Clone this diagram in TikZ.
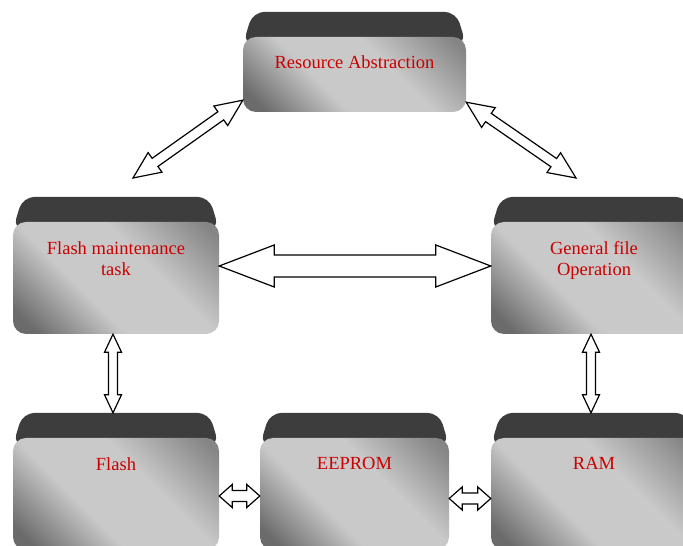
\documentclass[tikz,border=0pt]{standalone}
\usepackage{fontspec}
\setmainfont{Liberation Serif}
\usetikzlibrary{calc,backgrounds}
\definecolor{lblred}{RGB}{204,0,0}
\definecolor{tabgray}{RGB}{61,61,61}
\pgfdeclareverticalshading{boxshade}{100bp}{color(0bp)=(black!58); color(20bp)=(black!58);
  color(40bp)=(black!21); color(60bp)=(black!21); color(82bp)=(black!48); color(100bp)=(black!48)}
\tikzset{
  block/.style={rounded corners=13pt, minimum width=206pt, minimum height=112pt, inner sep=0pt,
    shading=boxshade, shading angle=-45},
  lbl/.style={anchor=north, yshift=-16pt, text=lblred, align=center,
    font=\fontsize{18.5pt}{21pt}\selectfont},
  tab/.style={fill=tabgray, rounded corners=12pt},
  harrow/.style={draw=black, fill=white, line width=1.2pt}
}
% hollow double arrow: from, to, shaft half width, head half width, head length
\newcommand{\hollowarrow}[5]{%
  \draw[harrow] let \p1=($(#2)-(#1)$), \n1={atan2(\y1,\x1)}, \n2={veclen(\x1,\y1)} in
    {[shift={(#1)}, rotate=\n1]
    (0,0) -- (#5,#4) -- (#5,#3) -- (\n2-#5,#3) -- (\n2-#5,#4) -- (\n2,0)
    -- (\n2-#5,-#4) -- (\n2-#5,-#3) -- (#5,-#3) -- (#5,-#4) -- cycle};
}
\begin{document}
\begin{tikzpicture}[x=1pt,y=1pt]
  \useasboundingbox (0,0) rectangle (683,546);
  \clip (0,0) rectangle (683,546);

  % blocks
  \node[block, minimum width=223pt, minimum height=75pt,
    label={[lbl, yshift=1pt]north:Resource Abstraction}] (res) at (354.5,471.5) {};
  \node[block, label={[lbl]north:Flash maintenance\\task}] (fmt) at (116,268) {};
  \node[block, label={[lbl]north:General file\\Operation}] (gfo) at (594,268) {};
  \node[block, label={[lbl]north:Flash}] (flash) at (116,52) {};
  \node[block, minimum width=189pt, label={[lbl]north:EEPROM}] (eeprom) at (354.5,52) {};
  \node[block, label={[lbl]north:RAM}] (ram) at (594,52) {};

  % dark top of each block
  \begin{scope}[on background layer]
    \foreach \n in {res,fmt,gfo,flash,eeprom,ram}
      \fill[tab] ([yshift=-8pt]\n.north west) -- ([xshift=10pt,yshift=25pt]\n.north west)
        -- ([xshift=-10pt,yshift=25pt]\n.north east) -- ([yshift=-8pt]\n.north east) -- cycle;
  \end{scope}

  % arrow ends
  \coordinate (res-w) at ([yshift=12pt]res.south west);
  \coordinate (res-e) at ([yshift=10pt]res.south east);
  \coordinate (fmt-up) at (133,368);
  \coordinate (gfo-up) at (576,368);
  \coordinate (fmt-e) at ([yshift=12pt]fmt.east);
  \coordinate (gfo-w) at ([yshift=12pt]gfo.west);
  \coordinate (fmt-s) at ([xshift=-3pt]fmt.south);
  \coordinate (flash-n) at ([xshift=-3pt,yshift=25pt]flash.north);
  \coordinate (gfo-s) at ([xshift=-3pt]gfo.south);
  \coordinate (ram-n) at ([xshift=-3pt,yshift=25pt]ram.north);
  \coordinate (flash-e) at ([yshift=-2pt]flash.east);
  \coordinate (eeprom-w) at ([yshift=-2pt]eeprom.west);
  \coordinate (eeprom-e) at ([yshift=-4.5pt]eeprom.east);
  \coordinate (ram-w) at ([yshift=-4.5pt]ram.west);

  % arrows
  \foreach \a/\b/\s/\h/\l in {res-w/fmt-up/5/12/27, res-e/gfo-up/5/12/27,
      fmt-e/gfo-w/11/21/55, fmt-s/flash-n/4.5/8.5/18, gfo-s/ram-n/4.5/8.5/18,
      flash-e/eeprom-w/5.5/11.5/13, eeprom-e/ram-w/5.5/11.5/13}
    {\hollowarrow{\a}{\b}{\s}{\h}{\l}}
\end{tikzpicture}
\end{document}
